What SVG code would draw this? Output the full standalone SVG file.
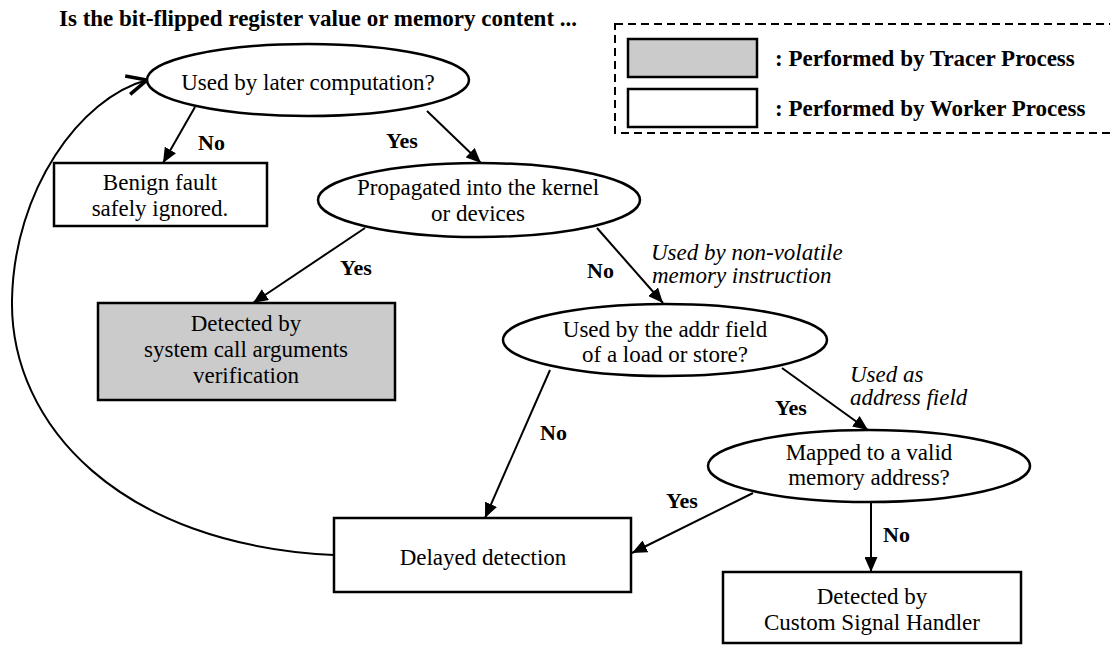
<svg xmlns="http://www.w3.org/2000/svg" width="1110" height="648" viewBox="0 0 1110 648">
<style>
  text { font-family: "Liberation Serif", "Times New Roman", serif; fill: #000; }
  .t { font-size: 23px; text-anchor: middle; }
  .b { font-size: 22px; font-weight: bold; }
  .i { font-size: 23px; font-style: italic; }
  .title { font-size: 23px; font-weight: bold; }
  .leg { font-size: 23px; font-weight: bold; }
  .node { fill: #fff; stroke: #000; stroke-width: 2.5; }
  .gray { fill: #cbcbcb; }
  .edge { fill: none; stroke: #000; stroke-width: 2; }
</style>
<defs>
  <marker id="ah" markerUnits="userSpaceOnUse" markerWidth="16" markerHeight="13" refX="15" refY="6.5" orient="auto">
    <path d="M0,0 L15,6.5 L0,13 z" fill="#000"/>
  </marker>
  <marker id="open" markerUnits="userSpaceOnUse" markerWidth="26" markerHeight="24" refX="22" refY="12" orient="auto">
    <path d="M2,2.5 L22,12 L2,21.5" fill="none" stroke="#000" stroke-width="3.5" stroke-linejoin="miter"/>
  </marker>
</defs>

<text class="title" x="59" y="26">Is the bit-flipped register value or memory content ...</text>

<g id="legend">
  <rect x="615" y="24" width="505" height="109" fill="none" stroke="#000" stroke-width="2" stroke-dasharray="8,5"/>
  <rect x="628" y="39" width="129" height="38" fill="#cbcbcb" stroke="#000" stroke-width="2.5"/>
  <rect x="628" y="89" width="129" height="38" fill="#fff" stroke="#000" stroke-width="2.5"/>
  <text class="leg" x="775" y="66">: Performed by Tracer Process</text>
  <text class="leg" x="775" y="116">: Performed by Worker Process</text>
</g>

<g id="connectors">
  <path class="edge" d="M195,107 L163,163" marker-end="url(#ah)"/>
  <path class="edge" d="M427,111 L481,163" marker-end="url(#ah)"/>
  <path class="edge" d="M365,228 L253,303" marker-end="url(#ah)"/>
  <path class="edge" d="M597,228 L663,303" marker-end="url(#ah)"/>
  <path class="edge" d="M550,370 L485,518" marker-end="url(#ah)"/>
  <path class="edge" d="M782,368 L868,430" marker-end="url(#ah)"/>
  <path class="edge" d="M753,493 L632,553" marker-end="url(#ah)"/>
  <path class="edge" d="M871,502 L871,572" marker-end="url(#ah)"/>
  <path class="edge" d="M334,555 C120,545 10,425 12,300 C14,190 80,98 147,80" marker-end="url(#open)"/>
  <text class="b" x="198" y="150">No</text>
  <text class="b" x="386" y="148">Yes</text>
  <text class="b" x="340" y="275">Yes</text>
  <text class="b" x="587" y="278">No</text>
  <text class="i" x="651" y="260">Used by non-volatile</text>
  <text class="i" x="652" y="283">memory instruction</text>
  <text class="b" x="540" y="440">No</text>
  <text class="b" x="775" y="415">Yes</text>
  <text class="i" x="850" y="382">Used as</text>
  <text class="i" x="850" y="405">address field</text>
  <text class="b" x="666" y="508">Yes</text>
  <text class="b" x="883" y="542">No</text>
</g>

<g id="n-used-later">
  <ellipse class="node" cx="308" cy="80" rx="161" ry="36"/>
  <text class="t" x="308" y="90">Used by later computation?</text>
</g>
<g id="n-benign">
  <rect class="node" x="54" y="163" width="213" height="63"/>
  <text class="t" x="160" y="190">Benign fault</text>
  <text class="t" x="160" y="216">safely ignored.</text>
</g>
<g id="n-propagated">
  <ellipse class="node" cx="479" cy="200" rx="161" ry="37"/>
  <text class="t" x="478" y="195">Propagated into the kernel</text>
  <text class="t" x="478" y="221">or devices</text>
</g>
<g id="n-syscall">
  <rect class="node gray" x="98" y="303" width="297" height="97"/>
  <text class="t" x="246" y="331">Detected by</text>
  <text class="t" x="246" y="357">system call arguments</text>
  <text class="t" x="246" y="383">verification</text>
</g>
<g id="n-addr">
  <ellipse class="node" cx="665" cy="340" rx="162" ry="36"/>
  <text class="t" x="665" y="337">Used by the addr field</text>
  <text class="t" x="665" y="362">of a load or store?</text>
</g>
<g id="n-mapped">
  <ellipse class="node" cx="869" cy="466" rx="161" ry="36"/>
  <text class="t" x="869" y="460">Mapped to a valid</text>
  <text class="t" x="869" y="485">memory address?</text>
</g>
<g id="n-delayed">
  <rect class="node" x="334" y="518" width="297" height="74"/>
  <text class="t" x="483" y="565">Delayed detection</text>
</g>
<g id="n-custom">
  <rect class="node" x="723" y="572" width="298" height="71"/>
  <text class="t" x="872" y="604">Detected by</text>
  <text class="t" x="872" y="630">Custom Signal Handler</text>
</g>
</svg>
